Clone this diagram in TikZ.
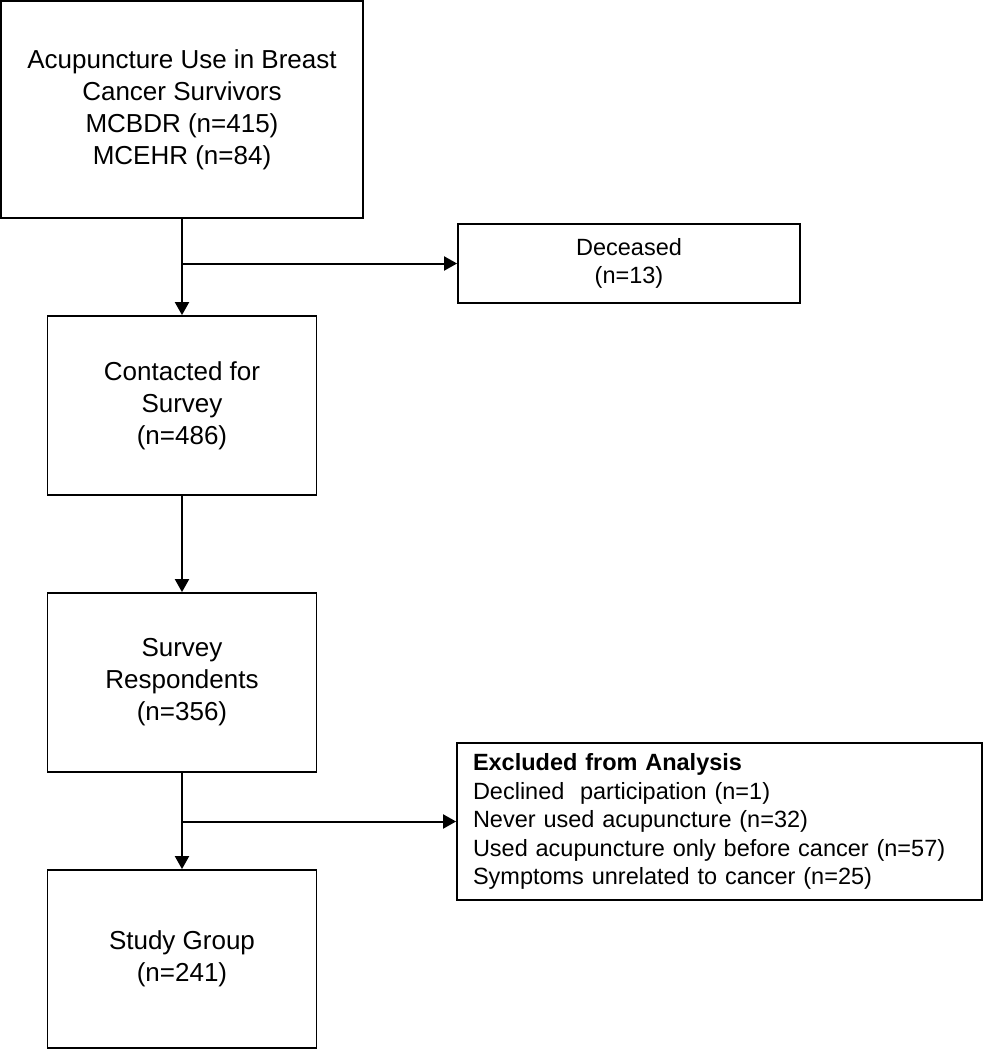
\documentclass[tikz,border=0pt]{standalone}
\usepackage{fontspec}
\setmainfont{Liberation Sans}
\usetikzlibrary{arrows.meta}
\tikzset{
	mainbox/.style={draw, line width=1.8pt, align=center, inner sep=0pt, font=\fontsize{26}{32}\selectfont},
	sidebox/.style={draw, line width=1.8pt, inner sep=0pt, font=\fontsize{23.5}{28.5}\selectfont},
	flow/.style={line width=2pt, -{Triangle[length=13pt,width=14pt]}}
}
\begin{document}
\begin{tikzpicture}[x=1pt,y=-1pt]
	\useasboundingbox (0,0) rectangle (983,1050);
	\node[mainbox, minimum width=362pt, minimum height=217pt] (source) at (182,109.5) {Acupuncture Use in Breast\\Cancer Survivors\\MCBDR (n=415)\\MCEHR (n=84)};
	\node[sidebox, align=center, minimum width=342pt, minimum height=79pt] (deceased) at (629,263.5) {Deceased\\(n=13)};
	\node[mainbox, minimum width=269pt, minimum height=179pt] (contacted) at (182,405.5) {Contacted for\\Survey\\(n=486)};
	\node[mainbox, minimum width=269pt, minimum height=179pt] (respond) at (182,682.5) {Survey\\Respondents\\(n=356)};
	\node[sidebox, align=left, text width=493pt, minimum width=525pt, minimum height=157pt] (excluded) at (719.5,821.5) {\textbf{Excluded from Analysis}\\Declined~ participation (n=1)\\Never used acupuncture (n=32)\\Used acupuncture only before cancer (n=57)\\Symptoms unrelated to cancer (n=25)};
	\node[mainbox, minimum width=269pt, minimum height=178pt] (study) at (182,959) {Study Group\\(n=241)};
	% main line and side branches
	\draw[flow] (source) -- (contacted);
	\draw[flow] (source.south |- deceased.west) -- (deceased.west);
	\draw[flow] (contacted) -- (respond);
	\draw[flow] (respond) -- (study);
	\draw[flow] (respond.south |- excluded.west) -- (excluded.west);
\end{tikzpicture}
\end{document}
